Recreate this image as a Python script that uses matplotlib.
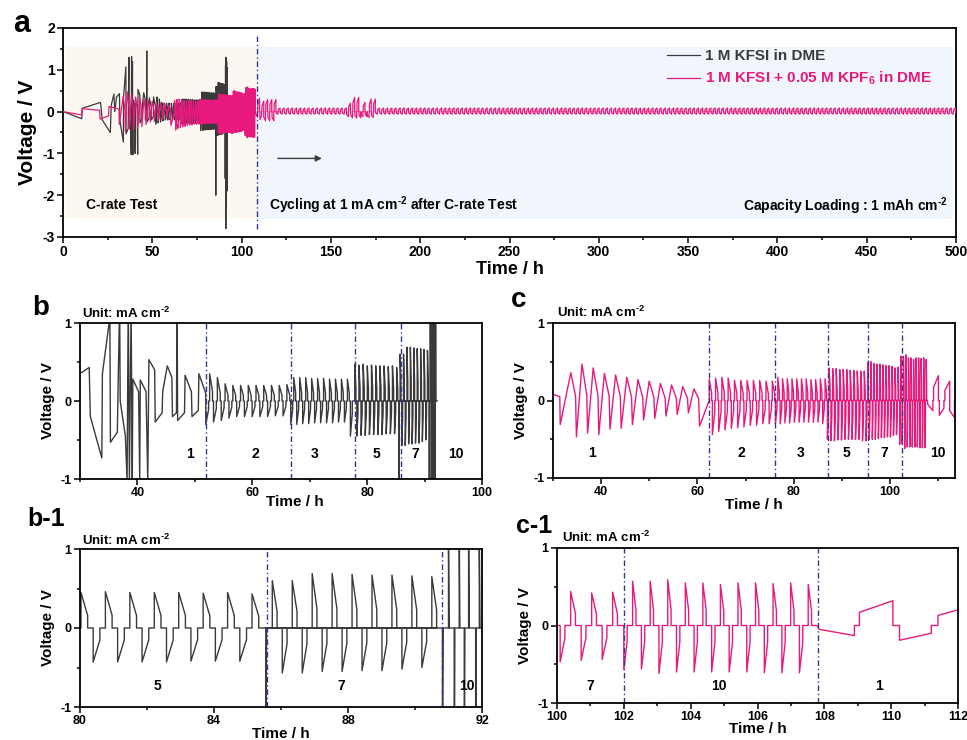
import numpy as np
import matplotlib.pyplot as plt
from matplotlib.ticker import MultipleLocator

plt.rcParams['font.family'] = ['Liberation Sans', 'DejaVu Sans']
plt.rcParams['font.weight'] = 'bold'
plt.rcParams['axes.labelweight'] = 'bold'
plt.rcParams['axes.unicode_minus'] = False
plt.rcParams['mathtext.fontset'] = 'custom'
plt.rcParams['mathtext.rm'] = 'Liberation Sans:bold'
plt.rcParams['mathtext.bf'] = 'Liberation Sans:bold'
plt.rcParams['mathtext.default'] = 'bf'

GRAY = '#3a3a3a'
PINK = '#e8197c'
NAVY = '#2a3a8c'

# ---------------- data ----------------
# 1 M KFSI in DME (black): irregular start traced by hand (time h, voltage V)
k_trace_t = [0, 10.5, 10.8, 21.0, 22.0, 26.5, 27.0, 28.5, 29.0, 30.0, 31.6, 31.8, 33.8, 33.9,
             35.2, 35.3, 36.5, 36.9, 37.0, 37.9, 38.2, 38.4, 38.6, 38.9, 39.1, 39.2, 40.2,
             40.4, 40.5, 41.5, 41.8, 42.0, 43.0, 43.1, 44.3, 44.4, 45.2, 46.0, 46.1, 46.8,
             46.9, 47.0, 48.2, 48.3, 49.4, 49.5, 50.6, 50.7, 51.9]
k_trace_v = [0, -0.17, 0.08, 0.22, -0.2, -0.5, 0.15, 0.42, 0.0, 0.35, 0.43, -0.2, -0.73, 0.35,
             1.07, -0.53, -0.4, 1.3, 0.0, -0.45, -1.03, 1.32, -1.0, 1.2, -1.03, 0.28, 0.12,
             -1.0, 0.27, 0.12, -1.02, 0.53, 0.4, -0.27, -0.15, 0.12, 0.45, 0.3, -0.2, -0.15,
             1.45, -0.25, -0.15, 0.33, 0.12, -0.2, -0.12, 0.35, 0.1]

# regular C-rate steps of the black cell: alternating half-cycle peak voltages
k2_peaks = [-0.3, 0.35, -0.27, 0.3, -0.25, 0.22, -0.22, 0.2, -0.2, 0.2, -0.2, 0.2,
            -0.2, 0.2, -0.2, 0.2, -0.2, 0.2, -0.19, 0.2, -0.19, 0.21]
k3_peaks = [-0.3, 0.3, -0.3, 0.3, -0.29, 0.3, -0.29, 0.29, -0.28, 0.29, -0.28, 0.29,
            -0.28, 0.28, -0.28, 0.28, -0.27, 0.28, -0.27, 0.28, -0.45]
k5_peaks = [0.47, -0.45, 0.46, -0.44, 0.47, -0.44, 0.45, -0.43, 0.46, -0.43, 0.45,
            -0.43, 0.45, -0.43, 0.45, -0.42, 0.44, -0.42, 0.45, -0.42, 0.43]
k7_peaks = [0.6, -0.57, 0.6, -0.57, 0.69, -0.55, 0.69, -0.55, 0.68, -0.54, 0.67,
            -0.54, 0.67, -0.52, 0.66, -0.5, 0.65]
k_step_rate = [2, 3, 5, 7]
k_step_start = [51.9, 66.7, 77.84, 85.74]
k_step_end = [66.7, 77.6, 85.5, 90.8]
k_step_peaks = [k2_peaks, k3_peaks, k5_peaks, k7_peaks]
# short-circuit spikes
k_spike_t = [85.55, 90.82, 91.0, 91.17, 91.32, 91.47, 91.6, 91.81, 91.92]
k_spike_v = [-2.0, -1.6, 1.1, -2.8, 1.3, -2.3, 1.2, -1.9, 1.05]
k_end_t = 92.2

# 1 M KFSI + 0.05 M KPF6 in DME (pink)
p_trace_t = [0, 10.5, 10.7, 20.5, 20.8, 25.5, 25.7, 30.0, 31.4, 31.5]
p_trace_v = [0, -0.08, 0.07, 0.03, -0.18, -0.1, 0.12, 0.08, 0.05, -0.31]
p1_peaks = [0.36, -0.47, 0.47, -0.42, 0.42, -0.44, 0.35, -0.37, 0.33, -0.36, 0.3, -0.31,
            0.27, -0.25, 0.25, -0.23, 0.22, -0.2, 0.2, -0.18, 0.18, -0.16, 0.15, -0.33]
p2_peaks = [0.27, -0.44, 0.29, -0.4, 0.3, -0.38, 0.29, -0.36, 0.26, -0.35, 0.26, -0.34,
            0.26, -0.32, 0.26, -0.32, 0.26, -0.3, 0.25, -0.3, 0.25]
p3_peaks = [-0.3, 0.3, -0.3, 0.28, -0.29, 0.28, -0.29, 0.28, -0.28, 0.28, -0.28, 0.28,
            -0.28, 0.28, -0.28, 0.27, -0.28, 0.27, -0.28, 0.28, -0.3, 0.28]
p5_peaks = [-0.5, 0.42, -0.52, 0.41, -0.52, 0.41, -0.51, 0.4, -0.51, 0.4, -0.5, 0.4,
            -0.5, 0.39, -0.5, 0.39, -0.5, 0.38, -0.5, 0.38, -0.52, 0.38, -0.52]
p7_peaks = [0.49, -0.5, 0.5, -0.5, 0.48, -0.5, 0.47, -0.49, 0.47, -0.48, 0.46, -0.48,
            0.45, -0.47, 0.45, -0.47, 0.44, -0.45, 0.42, -0.44, 0.43]
p10_peaks = [-0.57, 0.57, -0.56, 0.57, -0.62, 0.59, -0.6, 0.55, -0.6, 0.55, -0.6, 0.53,
             -0.6, 0.55, -0.6, 0.55, -0.61, 0.54, -0.61, 0.55, -0.61, 0.53]
p_step_rate = [1, 2, 3, 5, 7, 10]
p_step_start = [33.7, 62.45, 76.2, 87.0, 95.38, 102.0]
p_step_end = [61.6, 76.2, 87.0, 95.38, 101.98, 107.78]
p_step_peaks = [p1_peaks, p2_peaks, p3_peaks, p5_peaks, p7_peaks, p10_peaks]
# first long cycles at 1 mA cm-2 after the C-rate test (panel c-1)
p_after_t = [107.78, 107.85, 108.9, 108.9, 109.05, 109.05, 110.05, 110.05, 110.25, 110.25,
             111.2, 111.2, 111.4, 111.4, 112.4, 112.4]
p_after_v = [0, -0.05, -0.13, 0, 0, 0.17, 0.32, 0, 0, -0.19, -0.1, 0, 0, 0.13, 0.25, 0]
# long-term cycling envelope (segment end time h, positive peak, negative peak)
p_cyc_end = [119.0, 158.0, 161.0, 166.0, 170.0, 175.0, 500.0]
p_cyc_pos = [0.29, 0.085, 0.2, 0.34, 0.22, 0.3, 0.085]
p_cyc_neg = [-0.22, -0.06, -0.12, -0.15, -0.12, -0.14, -0.06]
p_cyc_half = 1.16

# annotations
a_xticks = np.arange(0, 501, 50)
b_lines = [51.9, 66.8, 77.8, 85.95]
b_labels = [(49.2, '1'), (60.6, '2'), (70.8, '3'), (81.7, '5'), (88.4, '7'), (95.4, '10')]
c_lines = [62.3, 76.1, 87.1, 95.5, 102.5]
c_labels = [(38.0, '1'), (69.2, '2'), (81.4, '3'), (90.9, '5'), (98.9, '7'), (110.0, '10')]
b1_lines = [85.58, 90.8]
b1_labels = [(82.3, '5'), (87.8, '7'), (91.55, '10')]
c1_lines = [102.0, 107.8]
c1_labels = [(101.0, '7'), (104.85, '10'), (109.65, '1')]


def build(trace_t, trace_v, rates, starts, ends, peaks_list, ratio=0.35):
    t, v = list(trace_t), list(trace_v)
    for rate, s0, s1, peaks in zip(rates, starts, ends, peaks_list):
        half = (s1 - s0) / len(peaks)
        tc = min(1.0 / rate, 0.85 * half)
        for i, p in enumerate(peaks):
            s = s0 + i * half
            if rate == 1:
                # sparse sampling at 1 mA: peak, slow decay, then straight line to the next peak
                if p > 0:
                    t += [s, s + tc]
                    v += [p, p * 0.15]
                else:
                    t += [s]
                    v += [p]
            else:
                t += [s, s, s + tc, s + tc]
                v += [0, p, p * ratio, 0]
    return t, v


k_t, k_v = build(k_trace_t, k_trace_v, k_step_rate, k_step_start, k_step_end, k_step_peaks)
for ts, vs in zip(k_spike_t, k_spike_v):
    k_t += [ts, ts, ts + 0.02]
    k_v += [0, vs, 0]
k_t.append(k_end_t)
k_v.append(0)

p_t, p_v = build(p_trace_t, p_trace_v, p_step_rate, p_step_start, p_step_end, p_step_peaks)
p_t += p_after_t
p_v += p_after_v
s = p_after_t[-1]
for seg_end, vp, vn in zip(p_cyc_end, p_cyc_pos, p_cyc_neg):
    sign = -1
    while s < seg_end:
        pk = vn if sign < 0 else vp
        p_t += [s, s, s + 1.0, s + 1.0]
        p_v += [0, pk * 0.6, pk, 0]
        s += p_cyc_half
        sign = -sign

# ---------------- figure ----------------
W, H = 967, 740
fig = plt.figure(figsize=(W / 100, H / 100), dpi=100)


def box(l, t, r, b):
    return [l / W, 1 - b / H, (r - l) / W, (b - t) / H]


def ftext(x, y, s, **kw):
    fig.text(x / W, 1 - y / H, s, **kw)


def style(ax, fs=9):
    for sp in ax.spines.values():
        sp.set_linewidth(1.3)
    ax.tick_params(which='both', direction='out', width=1.1, labelsize=fs, pad=2)
    ax.tick_params(which='major', length=4)
    ax.tick_params(which='minor', length=2.5)


HY = '\u2010'
unit = 'Unit: mA cm$^{' + HY + '2}$'

# panel a
ax = fig.add_axes(box(63, 28, 956, 237))
ax.fill_between([1.3, 108.5], -2.56, 1.55, color='#fdf7f1', lw=0, zorder=0)
ax.fill_between([108.5, 498.4], -2.56, 1.55, color='#f1f6fc', lw=0, zorder=0)
ax.plot(k_t, k_v, color=GRAY, lw=0.9, label='1 M KFSI in DME', zorder=2)
ax.plot(p_t, p_v, color=PINK, lw=0.9, label='1 M KFSI + 0.05 M KPF$_6$ in DME', zorder=3)
ax.plot([108.5, 108.5], [-2.8, 1.83], color=NAVY, lw=1.0, ls=(0, (4, 2, 1, 2)), zorder=4)
ax.annotate('', xy=(146.5, -1.12), xytext=(118.8, -1.12),
            arrowprops=dict(arrowstyle='-|>', color=GRAY, lw=1.0, mutation_scale=9))
ax.text(12.7, -2.24, 'C-rate Test', fontsize=10, va='center')
ax.text(115.5, -2.24, 'Cycling at 1 mA cm$^{' + HY + '2}$ after C-rate Test', fontsize=10, va='center')
ax.text(495.2, -2.27, 'Capacity Loading : 1 mAh cm$^{' + HY + '2}$', fontsize=10, va='center', ha='right')
leg = ax.legend(loc='upper right', bbox_to_anchor=(0.985, 0.95), frameon=False, fontsize=11,
                handlelength=2.15, handletextpad=0.33, labelspacing=0.45, borderpad=0.2)
for txt, ln in zip(leg.get_texts(), leg.get_lines()):
    txt.set_color(ln.get_color())
ax.set_xlim(0, 500)
ax.set_ylim(-3, 2)
ax.set_xticks(a_xticks)
ax.xaxis.set_minor_locator(MultipleLocator(25))
ax.yaxis.set_major_locator(MultipleLocator(1))
ax.yaxis.set_minor_locator(MultipleLocator(0.5))
ax.set_xlabel('Time / h', fontsize=13, labelpad=1)
ax.set_ylabel('Voltage / V', fontsize=15, labelpad=4)
style(ax, 10)


def small(rect, t, v, color, xlim, major, minor, lines, labels, ly):
    ax = fig.add_axes(rect)
    ax.plot(t, v, color=color, lw=1.0)
    for x in lines:
        ax.axvline(x, color=NAVY, lw=1.0, ls=(0, (4, 2, 1, 2)))
    for x, s in labels:
        ax.text(x, ly, s, fontsize=10, ha='center', va='center')
    ax.set_xlim(*xlim)
    ax.set_ylim(-1, 1)
    ax.xaxis.set_major_locator(MultipleLocator(major))
    ax.xaxis.set_minor_locator(MultipleLocator(minor))
    ax.yaxis.set_major_locator(MultipleLocator(1))
    ax.yaxis.set_minor_locator(MultipleLocator(0.5))
    ax.set_xlabel('Time / h', fontsize=11, labelpad=0)
    ax.set_ylabel('Voltage / V', fontsize=11, labelpad=4)
    style(ax, 9)
    return ax


axb = small(box(80, 323, 482, 479), k_t, k_v, GRAY, (30, 100), 20, 10, b_lines, b_labels, -0.68)
axb.xaxis.set_label_coords(0.535, -0.1)
small(box(553, 323, 955, 478), p_t, p_v, PINK, (30, 113.5), 20, 10, c_lines, c_labels, -0.68)
axb1 = small(box(80, 549, 482, 707), k_t, k_v, GRAY, (80, 92), 4, 2, b1_lines, b1_labels, -0.74)
axb1.xaxis.set_label_coords(0.5, -0.125)
axc1 = small(box(557, 548, 958, 703), p_t, p_v, PINK, (100, 112), 2, 1, c1_lines, c1_labels, -0.78)
axc1.xaxis.set_label_coords(0.5, -0.125)

ftext(13, 32, 'a', fontsize=22)
ftext(32, 315, 'b', fontsize=20)
ftext(511, 307, 'c', fontsize=20)
ftext(27, 526, 'b-1', fontsize=18)
ftext(516, 533, 'c-1', fontsize=18)
ftext(82, 318, unit, fontsize=9.5)
ftext(557, 317, unit, fontsize=9.5)
ftext(82, 545, unit, fontsize=9.5)
ftext(562, 542, unit, fontsize=9.5)

fig.savefig('out.png', dpi=100)
